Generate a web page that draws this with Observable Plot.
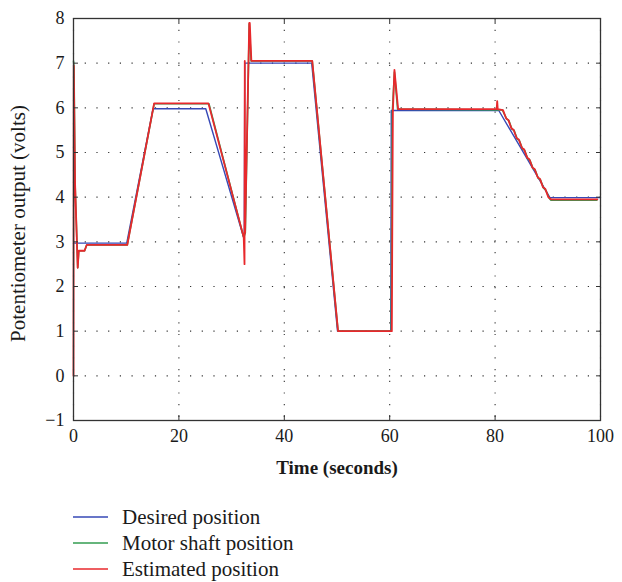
<!DOCTYPE html>
<html><head><meta charset="utf-8">
<script src="https://cdn.jsdelivr.net/npm/d3@7"></script>
<script src="https://cdn.jsdelivr.net/npm/@observablehq/plot@0.6"></script>
<style>
body{margin:0;background:#fff;}
#legend{font-family:"Liberation Serif",serif;font-size:21px;color:#1a1a1a;margin-top:14px;}
.row{display:flex;align-items:center;height:26px;padding-left:73px;}
.row svg{margin-right:14px;}
</style></head><body><div id="chart"></div><div id="legend"></div>
<script>
const xTicks = [0, 20, 40, 60, 80, 100];
const yTicks = [-1, 0, 1, 2, 3, 4, 5, 6, 7, 8];
const seriesNames = ["Desired position", "Motor shaft position", "Estimated position"];
const seriesColors = ["#3648b6", "#339c50", "#e8282c"];

const desiredT = [0, 10.1, 15.1, 25.1, 32.4, 32.5, 45.2, 50.1, 60.2, 60.3, 80.7, 90.4, 100];
const desiredV = [2.97, 2.97, 5.98, 5.98, 3.05, 7.0, 7.0, 1.0, 1.0, 5.94, 5.94, 3.99, 3.99];

const motorT = [0, 0.1, 0.3, 0.8, 1.0, 2.1, 2.5, 10.2, 15.3, 25.7, 32.3, 32.6, 33.35, 33.7, 45.3, 50.2, 60.3, 60.5, 60.9, 61.5,
  81.4, 82.2, 82.6, 83.2, 83.6, 84.2, 84.6, 85.2, 85.6, 86.2, 86.6, 87.2, 87.6, 88.2, 88.6, 89.2, 89.6, 90.3, 90.6, 99.3];
const motorV = [7.05, 6.9, 4.3, 2.42, 2.8, 2.8, 2.93, 2.93, 6.09, 6.09, 3.1, 3.2, 7.88, 7.05, 7.05, 1.0, 1.0, 5.9, 6.8, 5.97,
  5.95, 5.75, 5.72, 5.52, 5.5, 5.3, 5.27, 5.08, 5.05, 4.86, 4.83, 4.64, 4.61, 4.42, 4.39, 4.2, 4.16, 3.97, 3.93, 3.93];

const estT = [0, 0.05, 0.3, 0.8, 1.0, 2.1, 2.5, 10.2, 15.3, 25.6, 32.3, 32.45, 32.5, 32.56, 33.35, 33.45, 33.75, 45.3, 50.2, 60.4, 60.6, 60.9, 61.6,
  80.3, 80.4, 80.5, 81.5, 82.1, 82.5, 83.1, 83.5, 84.1, 84.5, 85.1, 85.5, 86.1, 86.5, 87.1, 87.5, 88.1, 88.5, 89.1, 89.5, 90.1, 90.7, 99.4];
const estV = [0, 6.95, 4.3, 2.42, 2.8, 2.8, 2.93, 2.93, 6.1, 6.1, 3.1, 2.5, 7.05, 3.2, 7.9, 7.9, 7.05, 7.05, 1.0, 1.0, 5.9, 6.85, 5.97,
  5.97, 6.15, 5.97, 5.95, 5.76, 5.73, 5.54, 5.51, 5.32, 5.29, 5.1, 5.07, 4.88, 4.85, 4.66, 4.63, 4.44, 4.41, 4.22, 4.19, 4.0, 3.95, 3.95];

const toRows = (name, T, V) => T.map((t, i) => ({series: name, t, v: V[i]}));
const desired = toRows(seriesNames[0], desiredT, desiredV);
const motor = toRows(seriesNames[1], motorT, motorV);
const est = toRows(seriesNames[2], estT, estV);

const gridStyle = {stroke: "#333", strokeOpacity: 1, strokeWidth: 1.1, strokeDasharray: "1.2,10.5"};
const chart = Plot.plot({
  width: 622, height: 490,
  marginLeft: 73, marginRight: 22, marginTop: 18, marginBottom: 70,
  style: {fontFamily: "'Liberation Serif', serif", background: "white", color: "#1a1a1a"},
  x: {domain: [0, 100]},
  y: {domain: [-1, 8]},
  marks: [
    Plot.gridX(xTicks, gridStyle),
    Plot.gridY(yTicks, gridStyle),
    Plot.line(desired, {x: "t", y: "v", stroke: seriesColors[0], strokeWidth: 1.4}),
    Plot.line(motor, {x: "t", y: "v", stroke: seriesColors[1], strokeWidth: 1.6}),
    Plot.line(est, {x: "t", y: "v", stroke: seriesColors[2], strokeWidth: 1.8}),
    Plot.frame({stroke: "#333", strokeWidth: 1.3}),
    Plot.axisX(xTicks, {anchor: "bottom", tickSize: -5, text: null, label: null, stroke: "#333"}),
    Plot.axisX(xTicks, {anchor: "top", tickSize: -5, text: null, label: null, stroke: "#333"}),
    Plot.axisY(yTicks, {anchor: "left", tickSize: -5, text: null, label: null, stroke: "#333"}),
    Plot.axisY(yTicks, {anchor: "right", tickSize: -5, text: null, label: null, stroke: "#333"}),
    Plot.axisX(xTicks, {anchor: "bottom", tickSize: 0, tickPadding: 9, fontSize: 18, label: null, tickFormat: d => String(d)}),
    Plot.axisY(yTicks, {anchor: "left", tickSize: 0, tickPadding: 9, fontSize: 18, label: null, tickFormat: d => d < 0 ? "\u2212" + Math.abs(d) : String(d)}),
    Plot.text(["Time (seconds)"], {frameAnchor: "bottom", dy: 47, textAnchor: "middle", lineAnchor: "middle", fontSize: 19, fontWeight: "bold", fill: "#1a1a1a"}),
    Plot.text(["Potentiometer output (volts)"], {frameAnchor: "left", dx: -55, dy: 4, textAnchor: "middle", lineAnchor: "middle", rotate: -90, fontSize: 21, fill: "#1a1a1a"})
  ]
});
document.getElementById("chart").appendChild(chart);

const legend = document.getElementById("legend");
seriesNames.forEach((name, i) => {
  const row = document.createElement("div");
  row.className = "row";
  row.innerHTML = `<svg width="35" height="4"><line x1="0" y1="2" x2="35" y2="2" stroke="${seriesColors[i]}" stroke-width="1.6"/></svg><span>${name}</span>`;
  legend.appendChild(row);
});
</script></body></html>
